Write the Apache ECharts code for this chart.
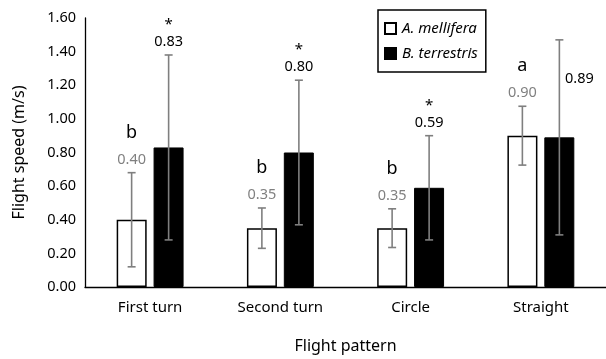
<!DOCTYPE html>
<html>
<head>
<meta charset="utf-8">
<script src="https://cdn.jsdelivr.net/npm/echarts@6/dist/echarts.min.js"></script>
<style>
html,body{margin:0;padding:0;background:#fff;}
#chart{width:606px;height:359px;}
</style>
</head>
<body>
<div id="chart"></div>
<script>
// ---- data ----
var categories = ['First turn', 'Second turn', 'Circle', 'Straight'];
var melliferaMean = [0.40, 0.35, 0.35, 0.90];
var melliferaErr  = [0.28, 0.12, 0.115, 0.175];
var terrestrisMean = [0.83, 0.80, 0.59, 0.89];
var terrestrisErr  = [0.55, 0.43, 0.31, 0.58];
var groupLetters = ['b', 'b', 'b', 'a'];
var stars = ['*', '*', '*', ''];
var yTicks = [0, 0.2, 0.4, 0.6, 0.8, 1.0, 1.2, 1.4, 1.6];
var seriesNames = ['A. mellifera', 'B. terrestris'];

var FONT = '"Noto Sans", "DejaVu Sans", sans-serif';
var chart = echarts.init(document.getElementById('chart'), null, {renderer: 'canvas'});

function errData(means, errs) {
  return means.map(function (m, i) { return [i, m, errs[i]]; });
}

function makeErrRender(side, valueColor, topLabels) {
  return function (params, api) {
    var i = api.value(0), m = api.value(1), e = api.value(2);
    var half = 18.5 * side;
    var top = api.coord([i, m + e]);
    var bot = api.coord([i, m - e]);
    var x = top[0] + half;
    var cw = 4;
    var lineStyle = {stroke: '#7f7f7f', lineWidth: 1.6};
    var children = [
      {type: 'line', shape: {x1: x, y1: top[1], x2: x, y2: bot[1]}, style: lineStyle},
      {type: 'line', shape: {x1: x - cw, y1: top[1], x2: x + cw, y2: top[1]}, style: lineStyle},
      {type: 'line', shape: {x1: x - cw, y1: bot[1], x2: x + cw, y2: bot[1]}, style: lineStyle}
    ];
    var valText = m.toFixed(2);
    var extra = topLabels[i];
    if (side > 0 && !extra) {
      children.push({type: 'text', style: {text: valText, x: x + 20, y: top[1] + 39, align: 'center', verticalAlign: 'middle', fill: valueColor, font: '14.5px ' + FONT}});
    } else {
      children.push({type: 'text', style: {text: valText, x: x, y: top[1] - 13, align: 'center', verticalAlign: 'middle', fill: valueColor, font: '14.5px ' + FONT}});
      if (extra) {
        var isStar = extra === '*';
        children.push({type: 'text', style: {text: extra, x: x, y: top[1] - (isStar ? 30 : 40), align: 'center', verticalAlign: 'middle', fill: '#000', font: (isStar ? '15px ' : '18px ') + FONT}});
      }
    }
    return {type: 'group', children: children};
  };
}

var option = {
  animation: false,
  backgroundColor: '#fff',
  grid: {left: 85, right: -6, top: 18, bottom: 62, containLabel: false},
  legend: {
    orient: 'vertical',
    left: 378, top: 10,
    padding: [11, 8, 11, 6],
    itemGap: 10,
    itemWidth: 11, itemHeight: 11,
    borderColor: '#000', borderWidth: 1.5,
    data: seriesNames.map(function (n) { return {name: n, icon: 'rect'}; }),
    textStyle: {fontFamily: FONT, fontSize: 15, fontStyle: 'italic', color: '#000', padding: [0, 0, 0, 1]}
  },
  xAxis: {
    type: 'category',
    data: categories,
    name: 'Flight pattern',
    nameLocation: 'middle',
    nameGap: 51,
    nameTextStyle: {fontFamily: FONT, fontSize: 16, color: '#000'},
    axisLine: {lineStyle: {color: '#000', width: 1.3}},
    axisTick: {show: false},
    axisLabel: {fontFamily: FONT, fontSize: 15, color: '#000', margin: 13}
  },
  yAxis: {
    type: 'value',
    min: 0, max: 1.6, interval: 0.2,
    name: 'Flight speed (m/s)',
    nameLocation: 'middle',
    nameGap: 58,
    nameTextStyle: {fontFamily: FONT, fontSize: 16, color: '#000'},
    axisLine: {show: true, lineStyle: {color: '#000', width: 1.3}},
    axisTick: {show: false},
    splitLine: {show: false},
    axisLabel: {
      fontFamily: FONT, fontSize: 14.5, color: '#000', margin: 9,
      formatter: function (v) { return v.toFixed(2); }
    }
  },
  series: [
    {
      name: seriesNames[0], type: 'bar', data: melliferaMean,
      barWidth: 30, barGap: '23%',
      itemStyle: {color: '#fff', borderColor: '#000', borderWidth: 1.5}
    },
    {
      name: seriesNames[1], type: 'bar', data: terrestrisMean,
      barWidth: 30, barGap: '23%',
      itemStyle: {color: '#000', borderColor: '#000', borderWidth: 1}
    },
    {
      type: 'custom', name: 'err1', z: 10, clip: false,
      data: errData(melliferaMean, melliferaErr),
      renderItem: makeErrRender(-1, '#808080', groupLetters)
    },
    {
      type: 'custom', name: 'err2', z: 10, clip: false,
      data: errData(terrestrisMean, terrestrisErr),
      renderItem: makeErrRender(1, '#000', stars)
    }
  ]
};
chart.setOption(option);
</script>
</body>
</html>
